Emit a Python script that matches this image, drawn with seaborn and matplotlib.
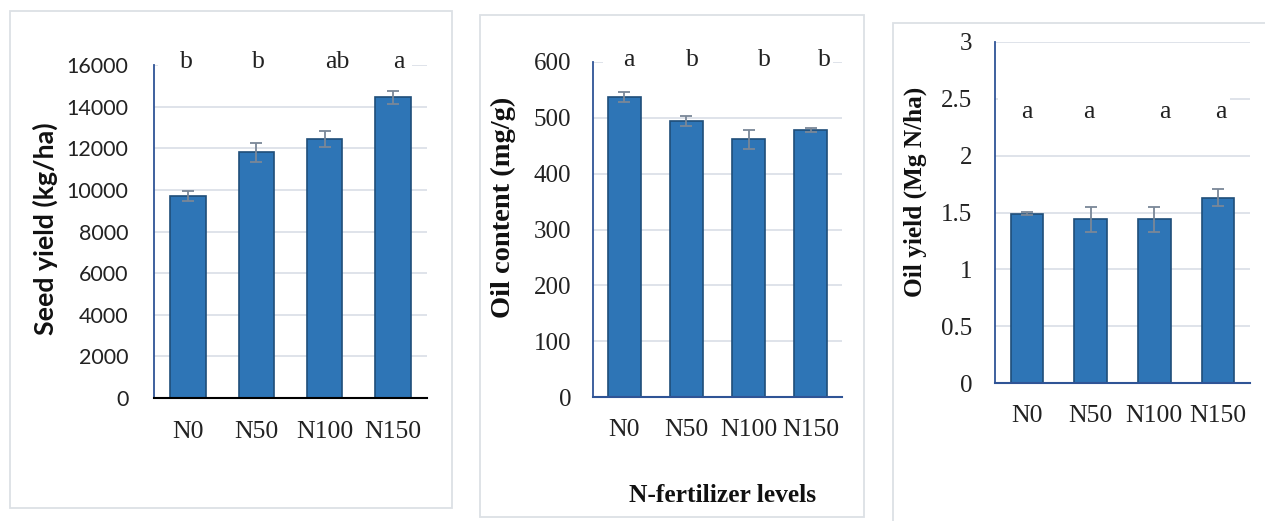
import numpy as np
import pandas as pd
import matplotlib
matplotlib.use("Agg")
import matplotlib.pyplot as plt
from matplotlib.patches import Rectangle
import seaborn as sns

# ---------------- data ----------------
levels = ["N0", "N50", "N100", "N150"]
seed_yield = [9700, 11800, 12460, 14450]
seed_err = [240, 450, 390, 320]
seed_letters = ["b", "b", "ab", "a"]

oil_content = [538, 494, 462, 478]
oil_content_err = [9, 9, 17, 4]
oil_content_letters = ["a", "b", "b", "b"]

oil_yield = [1.49, 1.44, 1.44, 1.63]
oil_yield_err = [0.015, 0.11, 0.11, 0.075]
oil_yield_letters = ["a", "a", "a", "a"]

sns.set_theme(style="white")
plt.rcParams["font.family"] = ["Liberation Serif", "DejaVu Serif"]

W, H = 1265, 521
fig = plt.figure(figsize=(W / 100, H / 100), dpi=100)
fig.patch.set_facecolor("white")

BAR = "#2E75B6"
EDGE = "#1F4E79"
ERR = "#7A8797"
GRID = "#D9DEE6"
SPINE = "#2F5496"
BOX = "#DCE0E5"


def px_axes(l, r, t, b):
    return [l / W, 1 - b / H, (r - l) / W, (b - t) / H]


def box(l, r, t, b):
    fig.add_artist(Rectangle((l / W, 1 - b / H), (r - l) / W, (b - t) / H,
                             transform=fig.transFigure, fill=False,
                             ec=BOX, lw=1.3, zorder=0))


box(10, 452, 11, 508)
box(480, 864, 15, 517)
box(893, 1300, 23, 560)


def panel(rect, values, errs, letters, letter_dx, letter_y, ylim, yticks,
          ytick_fmt, ytick_font, ytick_size, ypad, xpad, bottom_color, width,
          mask):
    ax = fig.add_axes(rect)
    df = pd.DataFrame({"level": levels, "value": values})
    sns.barplot(data=df, x="level", y="value", order=levels, color=BAR,
                saturation=1, width=width, edgecolor=EDGE, linewidth=1.2,
                errorbar=None, ax=ax, zorder=2)
    ax.errorbar(np.arange(len(levels)), values, yerr=errs, fmt="none",
                ecolor=ERR, elinewidth=1.3, capsize=4.5, capthick=1.3,
                zorder=3)
    ax.set_xlim(-0.5, len(levels) - 0.5)
    ax.set_ylim(*ylim)
    ax.set_yticks(yticks)
    ax.set_yticklabels([ytick_fmt(v) for v in yticks],
                       fontfamily=ytick_font, fontsize=ytick_size, color="#222222")
    ax.set_xticks(range(len(levels)))
    ax.set_xticklabels(levels, fontfamily="Liberation Serif", fontsize=18.5,
                       color="#222222")
    ax.tick_params(axis="y", length=0, pad=ypad)
    ax.tick_params(axis="x", length=0, pad=xpad)
    ax.set_xlabel("")
    ax.set_ylabel("")
    ax.set_axisbelow(True)
    ax.yaxis.grid(True, color=GRID, lw=1.2)
    ax.xaxis.grid(False)
    for s in ["top", "right"]:
        ax.spines[s].set_visible(False)
    ax.spines["left"].set_color(SPINE)
    ax.spines["left"].set_linewidth(1.3)
    ax.spines["bottom"].set_color(bottom_color)
    ax.spines["bottom"].set_linewidth(1.5)
    # white background of the significance-letter text box (hides gridline)
    x0, x1, yc = mask
    ax.add_patch(Rectangle((x0, yc - 0.02), x1 - x0, 0.04,
                           transform=ax.transAxes, fc="white", ec="none",
                           zorder=1, clip_on=False))
    for i, (lt, dx) in enumerate(zip(letters, letter_dx)):
        ax.text(i + dx, letter_y, lt, ha="center", va="baseline",
                fontsize=18.5, fontfamily="Liberation Serif", color="#222222",
                zorder=4)
    ax.set_facecolor("white")
    return ax


ax1 = panel(px_axes(154, 427, 65, 398), seed_yield, seed_err, seed_letters,
            [-0.03, 0.03, 0.18, 0.09], 15850, (0, 16000),
            list(range(0, 16001, 2000)), lambda v: f"{v:d}", "Lato", 15.5,
            18.5, 16.5, "black", 0.52, (0.015, 0.945, 1.0))

ax2 = panel(px_axes(593, 842, 62, 397), oil_content, oil_content_err,
            oil_content_letters, [0.08, 0.1, 0.26, 0.21], 592.5, (0, 600),
            list(range(0, 601, 100)), lambda v: f"{v:d}", "Liberation Serif",
            18, 15.5, 16, SPINE, 0.53, (0.04, 0.964, 1.0))

ax3 = panel(px_axes(995, 1250, 42, 383), oil_yield, oil_yield_err,
            oil_yield_letters, [0.0, -0.03, 0.16, 0.05], 2.33, (0, 3),
            [0, 0.5, 1, 1.5, 2, 2.5, 3], lambda v: f"{v:g}", "Liberation Serif",
            18, 16.5, 15.5, SPINE, 0.51, (0.012, 0.92, 2.5 / 3))

fig.text(45 / W, 1 - 229 / H, "Seed yield (kg/ha)", rotation=90, ha="center",
         va="center", fontfamily="Lato", fontweight="bold", fontsize=19.3,
         color="#111111")
fig.text(503 / W, 1 - 207 / H, "Oil content (mg/g)", rotation=90, ha="center",
         va="center", fontfamily="Liberation Serif", fontweight="bold",
         fontsize=20.5, color="#111111")
fig.text(915 / W, 1 - 192 / H, "Oil yield (Mg N/ha)", rotation=90, ha="center",
         va="center", fontfamily="Liberation Serif", fontweight="bold",
         fontsize=18.2, color="#111111")
fig.text(723 / W, 1 - 495 / H, "N-fertilizer levels", ha="center",
         va="center", fontfamily="Liberation Serif", fontweight="bold",
         fontsize=18.4, color="#111111")

fig.savefig("out.png", dpi=100, facecolor="white")
